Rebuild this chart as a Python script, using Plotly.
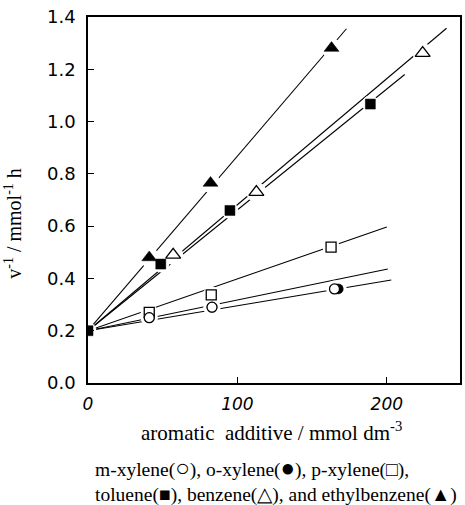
import plotly.graph_objects as go

# ---- data ----
ethyl_x = [41, 82, 163]
ethyl_y = [0.48, 0.765, 1.281]
benz_x = [57, 112.7, 224]
benz_y = [0.49, 0.73, 1.262]
tol_x = [0, 48.7, 95, 189]
tol_y = [0.2, 0.455, 0.66, 1.067]
px_x = [41, 82.5, 162.7]
px_y = [0.27, 0.337, 0.52]
ox_x = [41, 83, 167.5]
ox_y = [0.25, 0.29, 0.36]
mx_x = [41, 83, 165]
mx_y = [0.25, 0.29, 0.36]

# fitted straight lines: start and end point
fit_names = ["ethylbenzene", "benzene", "toluene", "p-xylene", "o-xylene", "m-xylene"]
fit_x0 = [0, 0, 0, 0, 0, 0]
fit_y0 = [0.2, 0.2, 0.2, 0.2, 0.2, 0.2]
fit_x1 = [173, 240, 212, 200, 200.7, 203]
fit_y1 = [1.355, 1.357, 1.18, 0.597, 0.436, 0.394]

x_ticks = [0, 100, 200]
y_ticks = [0.0, 0.2, 0.4, 0.6, 0.8, 1.0, 1.2, 1.4]

fig = go.Figure()

for i, n in enumerate(fit_names):
    fig.add_trace(go.Scatter(x=[fit_x0[i], fit_x1[i]], y=[fit_y0[i], fit_y1[i]],
                             mode="lines", line=dict(color="black", width=1.1),
                             showlegend=False, hoverinfo="skip"))

series = [
    (ethyl_x, ethyl_y, "triangle-up", "black", 13),
    (benz_x, benz_y, "triangle-up-open", "black", 13),
    (px_x, px_y, "square-open", "black", 10),
    (ox_x, ox_y, "circle", "black", 10),
    (mx_x, mx_y, "circle", "white", 10),
    (tol_x, tol_y, "square", "black", 10),
]

# white halos that break the lines around the markers
for xs, ys, sym, col, sz in series:
    fig.add_trace(go.Scatter(x=xs, y=ys, mode="markers",
                             marker=dict(symbol="circle", size=sz + 7, color="white"),
                             showlegend=False, hoverinfo="skip"))

for xs, ys, sym, col, sz in series:
    if sym.endswith("-open"):
        mk = dict(symbol=sym.replace("-open", ""), size=sz, color="white",
                  line=dict(color="black", width=1.3))
    elif col == "white":
        mk = dict(symbol=sym, size=sz, color="white", line=dict(color="black", width=1.3))
    else:
        mk = dict(symbol=sym, size=sz, color="black", line=dict(color="black", width=0.5))
    fig.add_trace(go.Scatter(x=xs, y=ys, mode="markers", marker=mk, showlegend=False))

fig.update_xaxes(range=[0, 249], tickvals=x_ticks, ticktext=[str(v) for v in x_ticks],
                 ticks="inside", ticklen=6, tickwidth=1.3, tickcolor="black",
                 showline=True, linecolor="black", linewidth=1.5, mirror=True,
                 showgrid=False, zeroline=False, ticklabelstandoff=5,
                 tickfont=dict(family="DejaVu Sans", size=17, color="black", style="italic"))
fig.update_yaxes(range=[0, 1.4], tickvals=y_ticks, ticktext=["%.1f" % v for v in y_ticks],
                 ticks="inside", ticklen=6, tickwidth=1.3, tickcolor="black",
                 showline=True, linecolor="black", linewidth=1.5, mirror=True,
                 showgrid=False, zeroline=False, ticklabelstandoff=7,
                 tickfont=dict(family="DejaVu Sans", size=18, color="black"))

serif = dict(family="Liberation Serif", color="black")
big = '<span style="font-size:24px">%s</span>'
fig.add_annotation(xref="paper", yref="paper", x=-0.24, y=0.437, textangle=-90,
                   text="v<sup>-1</sup> / mmol<sup>-1</sup> h", showarrow=False,
                   font=dict(size=20, **serif))
fig.add_annotation(xref="paper", yref="paper", x=0.492, y=-0.175,
                   text="aromatic  additive / mmol dm<sup>-3</sup>", showarrow=False,
                   font=dict(size=21, **serif))
fig.add_annotation(xref="paper", yref="paper", x=0.013, y=-0.272, xanchor="left",
                   text="m-xylene(" + big % "○" + "), o-xylene(" + big % "●" + "), p-xylene(□),",
                   showarrow=False, font=dict(size=19.5, **serif))
fig.add_annotation(xref="paper", yref="paper", x=0.013, y=-0.342, xanchor="left",
                   text="toluene(■), benzene(△), and ethylbenzene(▲)", showarrow=False,
                   font=dict(size=19.5, **serif))

fig.update_layout(width=465, height=505, margin=dict(l=88, r=3, t=17, b=122),
                  plot_bgcolor="white", paper_bgcolor="white", showlegend=False)

fig.write_html("out.html")
